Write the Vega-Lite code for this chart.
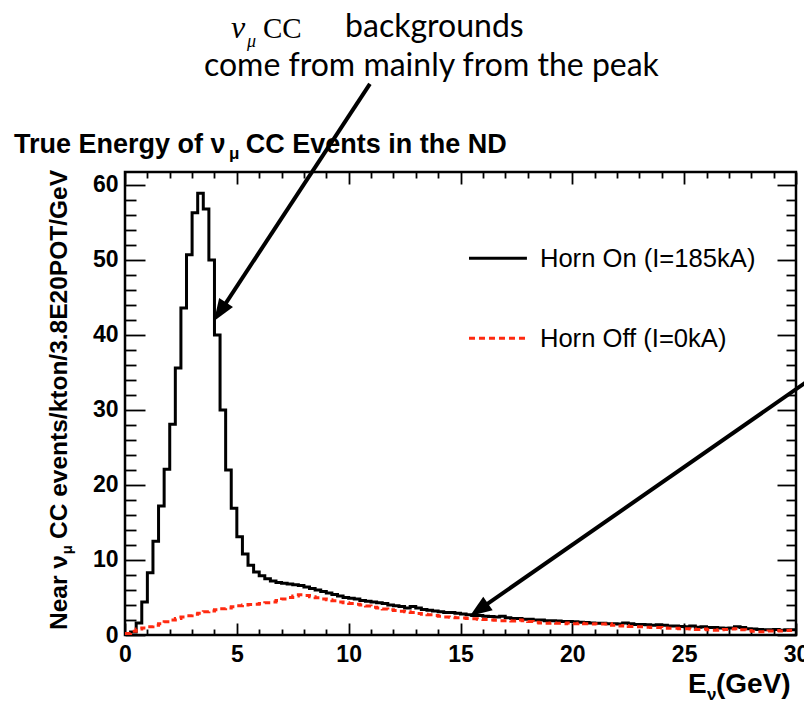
{
  "$schema": "https://vega.github.io/schema/vega-lite/v6.json",
  "width": 671,
  "height": 463,
  "autosize": {"type": "none"},
  "padding": {"left": 125, "top": 172, "right": 8, "bottom": 67},
  "background": "white",
  "config": {
    "view": {"stroke": "black", "strokeWidth": 2.5},
    "axis": {"domain": false, "grid": false, "tickColor": "black", "tickWidth": 1.8, "labelColor": "black", "labelFont": "Liberation Sans", "labelFontWeight": "bold", "labelFontSize": 23, "labelFlush": false, "labelOverlap": false}
  },
  "resolve": {"axis": {"x": "independent", "y": "independent"}},
  "datasets": {
    "one": [{}],
    "on": [
      {"e":0,"n":0.1},{"e":0.25,"n":0.4},{"e":0.5,"n":1.6},{"e":0.75,"n":4.4},{"e":1,"n":8.3},{"e":1.25,"n":12.5},{"e":1.5,"n":17.2},{"e":1.75,"n":22.1},
      {"e":2,"n":28.1},{"e":2.25,"n":35.6},{"e":2.5,"n":43.6},{"e":2.75,"n":50.7},{"e":3,"n":56.3},{"e":3.25,"n":58.9},{"e":3.5,"n":56.8},{"e":3.75,"n":50.0},
      {"e":4,"n":40.0},{"e":4.25,"n":30.0},{"e":4.5,"n":22.0},{"e":4.75,"n":16.9},{"e":5,"n":13.1},{"e":5.25,"n":10.8},{"e":5.5,"n":9.3},{"e":5.75,"n":8.4},
      {"e":6,"n":7.9},{"e":6.25,"n":7.5},{"e":6.5,"n":7.2},{"e":6.75,"n":7.0},{"e":7,"n":6.9},{"e":7.25,"n":6.8},{"e":7.5,"n":6.7},{"e":7.75,"n":6.6},
      {"e":8,"n":6.4},{"e":8.25,"n":6.2},{"e":8.5,"n":6.0},{"e":8.75,"n":5.8},{"e":9,"n":5.6},{"e":9.25,"n":5.4},{"e":9.5,"n":5.2},{"e":9.75,"n":5.0},
      {"e":10,"n":4.9},{"e":10.25,"n":4.8},{"e":10.5,"n":4.6},{"e":10.75,"n":4.5},{"e":11,"n":4.4},{"e":11.25,"n":4.3},{"e":11.5,"n":4.2},{"e":11.75,"n":4.0},
      {"e":12,"n":3.9},{"e":12.25,"n":3.8},{"e":12.5,"n":3.6},{"e":12.75,"n":3.8},{"e":13,"n":3.6},{"e":13.25,"n":3.4},{"e":13.5,"n":3.3},{"e":13.75,"n":3.2},
      {"e":14,"n":3.1},{"e":14.25,"n":3.0},{"e":14.5,"n":3.0},{"e":14.75,"n":2.9},{"e":15,"n":2.8},{"e":15.25,"n":2.7},{"e":15.5,"n":2.6},{"e":15.75,"n":2.6},
      {"e":16,"n":2.5},{"e":16.25,"n":2.45},{"e":16.5,"n":2.4},{"e":16.75,"n":2.5},{"e":17,"n":2.3},{"e":17.25,"n":2.2},{"e":17.5,"n":2.2},{"e":17.75,"n":2.1},
      {"e":18,"n":2.1},{"e":18.25,"n":2.0},{"e":18.5,"n":2.0},{"e":18.75,"n":1.9},{"e":19,"n":1.9},{"e":19.25,"n":1.85},{"e":19.5,"n":1.8},{"e":19.75,"n":1.8},
      {"e":20,"n":1.75},{"e":20.25,"n":1.7},{"e":20.5,"n":1.65},{"e":20.75,"n":1.6},{"e":21,"n":1.55},{"e":21.25,"n":1.55},{"e":21.5,"n":1.5},{"e":21.75,"n":1.5},
      {"e":22,"n":1.45},{"e":22.25,"n":1.6},{"e":22.5,"n":1.5},{"e":22.75,"n":1.4},{"e":23,"n":1.4},{"e":23.25,"n":1.35},{"e":23.5,"n":1.3},{"e":23.75,"n":1.35},
      {"e":24,"n":1.3},{"e":24.25,"n":1.2},{"e":24.5,"n":1.2},{"e":24.75,"n":1.15},{"e":25,"n":1.1},{"e":25.25,"n":1.2},{"e":25.5,"n":1.05},{"e":25.75,"n":1.1},
      {"e":26,"n":1.0},{"e":26.25,"n":1.0},{"e":26.5,"n":0.95},{"e":26.75,"n":0.9},{"e":27,"n":0.95},{"e":27.25,"n":1.1},{"e":27.5,"n":1.0},{"e":27.75,"n":0.85},
      {"e":28,"n":0.8},{"e":28.25,"n":0.75},{"e":28.5,"n":0.7},{"e":28.75,"n":0.7},{"e":29,"n":0.75},{"e":29.25,"n":0.65},{"e":29.5,"n":0.7},{"e":29.75,"n":0.7},
      {"e":30,"n":0.7}
    ],
    "off": [
      {"e":0,"n":0.2},{"e":0.25,"n":0.5},{"e":0.5,"n":0.8},{"e":0.75,"n":0.95},{"e":1,"n":1.1},{"e":1.25,"n":1.3},{"e":1.5,"n":1.5},{"e":1.75,"n":1.75},
      {"e":2,"n":2.0},{"e":2.25,"n":2.2},{"e":2.5,"n":2.4},{"e":2.75,"n":2.55},{"e":3,"n":2.75},{"e":3.25,"n":2.9},{"e":3.5,"n":3.1},{"e":3.75,"n":3.2},
      {"e":4,"n":3.35},{"e":4.25,"n":3.5},{"e":4.5,"n":3.6},{"e":4.75,"n":3.75},{"e":5,"n":3.9},{"e":5.25,"n":4.0},{"e":5.5,"n":4.05},{"e":5.75,"n":4.1},
      {"e":6,"n":4.2},{"e":6.25,"n":4.3},{"e":6.5,"n":4.4},{"e":6.75,"n":4.6},{"e":7,"n":4.8},{"e":7.25,"n":5.0},{"e":7.5,"n":5.2},{"e":7.75,"n":5.35},
      {"e":8,"n":5.25},{"e":8.25,"n":5.1},{"e":8.5,"n":4.95},{"e":8.75,"n":4.8},{"e":9,"n":4.7},{"e":9.25,"n":4.55},{"e":9.5,"n":4.4},{"e":9.75,"n":4.3},
      {"e":10,"n":4.2},{"e":10.25,"n":4.1},{"e":10.5,"n":4.0},{"e":10.75,"n":3.85},{"e":11,"n":3.7},{"e":11.25,"n":3.6},{"e":11.5,"n":3.45},{"e":11.75,"n":3.35},
      {"e":12,"n":3.25},{"e":12.25,"n":3.15},{"e":12.5,"n":3.1},{"e":12.75,"n":3.0},{"e":13,"n":2.85},{"e":13.25,"n":2.75},{"e":13.5,"n":2.7},{"e":13.75,"n":2.6},
      {"e":14,"n":2.5},{"e":14.25,"n":2.4},{"e":14.5,"n":2.35},{"e":14.75,"n":2.3},{"e":15,"n":2.25},{"e":15.25,"n":2.2},{"e":15.5,"n":2.15},{"e":15.75,"n":2.1},
      {"e":16,"n":2.05},{"e":16.25,"n":2.0},{"e":16.5,"n":1.95},{"e":16.75,"n":1.9},{"e":17,"n":1.9},{"e":17.25,"n":1.85},{"e":17.5,"n":2.0},{"e":17.75,"n":1.9},
      {"e":18,"n":1.8},{"e":18.25,"n":1.7},{"e":18.5,"n":1.6},{"e":18.75,"n":1.55},{"e":19,"n":1.6},{"e":19.25,"n":1.55},{"e":19.5,"n":1.5},{"e":19.75,"n":1.6},
      {"e":20,"n":1.5},{"e":20.25,"n":1.55},{"e":20.5,"n":1.5},{"e":20.75,"n":1.45},{"e":21,"n":1.5},{"e":21.25,"n":1.45},{"e":21.5,"n":1.5},{"e":21.75,"n":1.3},
      {"e":22,"n":1.2},{"e":22.25,"n":1.25},{"e":22.5,"n":1.15},{"e":22.75,"n":1.1},{"e":23,"n":1.1},{"e":23.25,"n":1.05},{"e":23.5,"n":1.0},{"e":23.75,"n":1.0},
      {"e":24,"n":0.95},{"e":24.25,"n":0.9},{"e":24.5,"n":0.9},{"e":24.75,"n":0.85},{"e":25,"n":0.85},{"e":25.25,"n":0.8},{"e":25.5,"n":0.75},{"e":25.75,"n":0.8},
      {"e":26,"n":0.7},{"e":26.25,"n":0.65},{"e":26.5,"n":0.7},{"e":26.75,"n":0.75},{"e":27,"n":0.8},{"e":27.25,"n":0.85},{"e":27.5,"n":0.7},{"e":27.75,"n":0.6},
      {"e":28,"n":0.5},{"e":28.25,"n":0.45},{"e":28.5,"n":0.45},{"e":28.75,"n":0.55},{"e":29,"n":0.6},{"e":29.25,"n":0.55},{"e":29.5,"n":0.6},{"e":29.75,"n":0.65},
      {"e":30,"n":0.65}
    ]
  },
  "layer": [
    {
      "data": {"name": "on"},
      "mark": {"type": "line", "interpolate": "step-after", "color": "black", "strokeWidth": 3},
      "encoding": {
        "x": {"field": "e", "type": "quantitative", "scale": {"domain": [0, 30], "nice": false, "zero": false},
              "axis": {"orient": "bottom", "values": [0,5,10,15,20,25,30], "tickSize": -12, "labelPadding": 20, "title": null}},
        "y": {"field": "n", "type": "quantitative", "scale": {"domain": [0, 61.73], "nice": false, "zero": false},
              "axis": {"orient": "left", "values": [0,10,20,30,40,50,60], "tickSize": -20, "labelPadding": 27, "title": null}}
      }
    },
    {
      "data": {"name": "off"},
      "mark": {"type": "line", "interpolate": "step-after", "color": "#ff2a10", "strokeWidth": 3, "strokeDash": [6, 4]},
      "encoding": {
        "x": {"field": "e", "type": "quantitative",
              "axis": {"orient": "bottom", "values": [1,2,3,4,6,7,8,9,11,12,13,14,16,17,18,19,21,22,23,24,26,27,28,29], "tickSize": -6, "labels": false, "title": null}},
        "y": {"field": "n", "type": "quantitative",
              "axis": {"orient": "left", "values": [2,4,6,8,12,14,16,18,22,24,26,28,32,34,36,38,42,44,46,48,52,54,56,58], "tickSize": -11, "labels": false, "title": null}}
      }
    },
    {
      "data": {"name": "on"},
      "mark": {"type": "line", "strokeOpacity": 0},
      "encoding": {
        "x": {"field": "e", "type": "quantitative",
              "axis": {"orient": "top", "values": [0,5,10,15,20,25,30], "tickSize": -12, "labels": false, "title": null}},
        "y": {"field": "n", "type": "quantitative",
              "axis": {"orient": "right", "values": [0,10,20,30,40,50,60], "tickSize": -19, "labels": false, "title": null}}
      }
    },
    {
      "data": {"name": "on"},
      "mark": {"type": "line", "strokeOpacity": 0},
      "encoding": {
        "x": {"field": "e", "type": "quantitative",
              "axis": {"orient": "top", "values": [1,2,3,4,6,7,8,9,11,12,13,14,16,17,18,19,21,22,23,24,26,27,28,29], "tickSize": -6, "labels": false, "title": null}},
        "y": {"field": "n", "type": "quantitative",
              "axis": {"orient": "right", "values": [2,4,6,8,12,14,16,18,22,24,26,28,32,34,36,38,42,44,46,48,52,54,56,58], "tickSize": -10, "labels": false, "title": null}}
      }
    },
    {
      "data": {"name": "one"},
      "mark": {"type": "rule", "color": "black", "strokeWidth": 3},
      "encoding": {"x": {"datum": 15.38, "type": "quantitative", "axis": null}, "x2": {"datum": 17.97}, "y": {"datum": 50.23, "type": "quantitative", "axis": null}}
    },
    {
      "data": {"name": "one"},
      "mark": {"type": "rule", "color": "#ff2a10", "strokeWidth": 3, "strokeDash": [6, 4]},
      "encoding": {"x": {"datum": 15.38, "type": "quantitative", "axis": null}, "x2": {"datum": 17.97}, "y": {"datum": 39.56, "type": "quantitative", "axis": null}}
    },
    {
      "data": {"name": "one"},
      "mark": {"type": "text", "text": "Horn On (I=185kA)", "align": "left", "baseline": "alphabetic", "font": "Liberation Sans", "fontSize": 25.6, "color": "black"},
      "encoding": {"x": {"datum": 18.55, "type": "quantitative", "axis": null}, "y": {"datum": 49.1, "type": "quantitative", "axis": null}}
    },
    {
      "data": {"name": "one"},
      "mark": {"type": "text", "text": "Horn Off (I=0kA)", "align": "left", "baseline": "alphabetic", "font": "Liberation Sans", "fontSize": 25.6, "color": "black"},
      "encoding": {"x": {"datum": 18.55, "type": "quantitative", "axis": null}, "y": {"datum": 38.44, "type": "quantitative", "axis": null}}
    },
    {
      "data": {"name": "one"},
      "mark": {"type": "text", "text": "True Energy of ν", "align": "left", "baseline": "alphabetic", "font": "Liberation Sans", "fontWeight": "bold", "fontSize": 27, "color": "black"},
      "encoding": {"x": {"datum": -4.963, "type": "quantitative", "axis": null}, "y": {"datum": 64.27, "type": "quantitative", "axis": null}}
    },
    {
      "data": {"name": "one"},
      "mark": {"type": "text", "text": "μ", "align": "left", "baseline": "alphabetic", "font": "Liberation Sans", "fontWeight": "bold", "fontSize": 17, "color": "black"},
      "encoding": {"x": {"datum": 4.65, "type": "quantitative", "axis": null}, "y": {"datum": 63.47, "type": "quantitative", "axis": null}}
    },
    {
      "data": {"name": "one"},
      "mark": {"type": "text", "text": "CC Events in the ND", "align": "left", "baseline": "alphabetic", "font": "Liberation Sans", "fontWeight": "bold", "fontSize": 27, "color": "black"},
      "encoding": {"x": {"datum": 5.4, "type": "quantitative", "axis": null}, "y": {"datum": 64.27, "type": "quantitative", "axis": null}}
    },
    {
      "data": {"name": "one"},
      "mark": {"type": "text", "text": "Near ν", "angle": 270, "align": "left", "baseline": "alphabetic", "font": "Liberation Sans", "fontWeight": "bold", "fontSize": 24.5, "color": "black"},
      "encoding": {"x": {"datum": -2.593, "type": "quantitative", "axis": null}, "y": {"datum": 0.667, "type": "quantitative", "axis": null}}
    },
    {
      "data": {"name": "one"},
      "mark": {"type": "text", "text": "μ", "angle": 270, "align": "left", "baseline": "alphabetic", "font": "Liberation Sans", "fontWeight": "bold", "fontSize": 15, "color": "black"},
      "encoding": {"x": {"datum": -2.37, "type": "quantitative", "axis": null}, "y": {"datum": 10.75, "type": "quantitative", "axis": null}}
    },
    {
      "data": {"name": "one"},
      "mark": {"type": "text", "text": "CC events/kton/3.8E20POT/GeV", "angle": 270, "align": "left", "baseline": "alphabetic", "font": "Liberation Sans", "fontWeight": "bold", "fontSize": 24.5, "color": "black"},
      "encoding": {"x": {"datum": -2.593, "type": "quantitative", "axis": null}, "y": {"datum": 12.8, "type": "quantitative", "axis": null}}
    },
    {
      "data": {"name": "one"},
      "mark": {"type": "text", "text": "E", "align": "left", "baseline": "alphabetic", "font": "Liberation Sans", "fontWeight": "bold", "fontSize": 28, "color": "black"},
      "encoding": {"x": {"datum": 25.17, "type": "quantitative", "axis": null}, "y": {"datum": -7.73, "type": "quantitative", "axis": null}}
    },
    {
      "data": {"name": "one"},
      "mark": {"type": "text", "text": "ν", "align": "left", "baseline": "alphabetic", "font": "Liberation Sans", "fontWeight": "bold", "fontSize": 17, "color": "black"},
      "encoding": {"x": {"datum": 26.02, "type": "quantitative", "axis": null}, "y": {"datum": -8.6, "type": "quantitative", "axis": null}}
    },
    {
      "data": {"name": "one"},
      "mark": {"type": "text", "text": "(GeV)", "align": "left", "baseline": "alphabetic", "font": "Liberation Sans", "fontWeight": "bold", "fontSize": 28, "color": "black"},
      "encoding": {"x": {"datum": 26.42, "type": "quantitative", "axis": null}, "y": {"datum": -7.73, "type": "quantitative", "axis": null}}
    },
    {
      "data": {"name": "one"},
      "mark": {"type": "text", "text": "ν", "align": "left", "baseline": "alphabetic", "font": "Liberation Serif", "fontStyle": "italic", "fontSize": 32, "color": "black"},
      "encoding": {"x": {"datum": 4.74, "type": "quantitative", "axis": null}, "y": {"datum": 79.6, "type": "quantitative", "axis": null}}
    },
    {
      "data": {"name": "one"},
      "mark": {"type": "text", "text": "μ", "align": "left", "baseline": "alphabetic", "font": "Liberation Serif", "fontStyle": "italic", "fontSize": 18, "color": "black"},
      "encoding": {"x": {"datum": 5.45, "type": "quantitative", "axis": null}, "y": {"datum": 78.4, "type": "quantitative", "axis": null}}
    },
    {
      "data": {"name": "one"},
      "mark": {"type": "text", "text": "CC", "align": "left", "baseline": "alphabetic", "font": "Liberation Serif", "fontSize": 29, "color": "black"},
      "encoding": {"x": {"datum": 6.17, "type": "quantitative", "axis": null}, "y": {"datum": 79.6, "type": "quantitative", "axis": null}}
    },
    {
      "data": {"name": "one"},
      "mark": {"type": "text", "text": "backgrounds", "align": "left", "baseline": "alphabetic", "font": "Lato", "fontSize": 32, "color": "black"},
      "encoding": {"x": {"datum": 9.84, "type": "quantitative", "axis": null}, "y": {"datum": 79.73, "type": "quantitative", "axis": null}}
    },
    {
      "data": {"name": "one"},
      "mark": {"type": "text", "text": "come from mainly from the peak", "align": "center", "baseline": "alphabetic", "font": "Lato", "fontSize": 32, "color": "black"},
      "encoding": {"x": {"datum": 13.7, "type": "quantitative", "axis": null}, "y": {"datum": 74.53, "type": "quantitative", "axis": null}}
    },
    {
      "data": {"name": "one"},
      "mark": {"type": "rule", "color": "black", "strokeWidth": 4},
      "encoding": {"x": {"datum": 10.95, "type": "quantitative", "axis": null}, "y": {"datum": 73.47, "type": "quantitative", "axis": null}, "x2": {"datum": 4.18}, "y2": {"datum": 42.76}}
    },
    {
      "data": {"name": "one"},
      "mark": {"type": "rule", "color": "black", "strokeWidth": 4},
      "encoding": {"x": {"datum": 30.98, "type": "quantitative", "axis": null}, "y": {"datum": 34.8, "type": "quantitative", "axis": null}, "x2": {"datum": 15.72}, "y2": {"datum": 3.15}}
    },
    {
      "data": {"name": "one"},
      "mark": {"type": "point", "shape": "M0,0L0.75,2L-0.75,2Z", "filled": true, "color": "black", "opacity": 1, "strokeWidth": 0, "size": 484, "angle": 213.2},
      "encoding": {"x": {"datum": 3.98, "type": "quantitative", "axis": null}, "y": {"datum": 41.87, "type": "quantitative", "axis": null}}
    },
    {
      "data": {"name": "one"},
      "mark": {"type": "point", "shape": "M0,0L0.75,2L-0.75,2Z", "filled": true, "color": "black", "opacity": 1, "strokeWidth": 0, "size": 484, "angle": 235.2},
      "encoding": {"x": {"datum": 15.42, "type": "quantitative", "axis": null}, "y": {"datum": 2.53, "type": "quantitative", "axis": null}}
    }
  ]
}
